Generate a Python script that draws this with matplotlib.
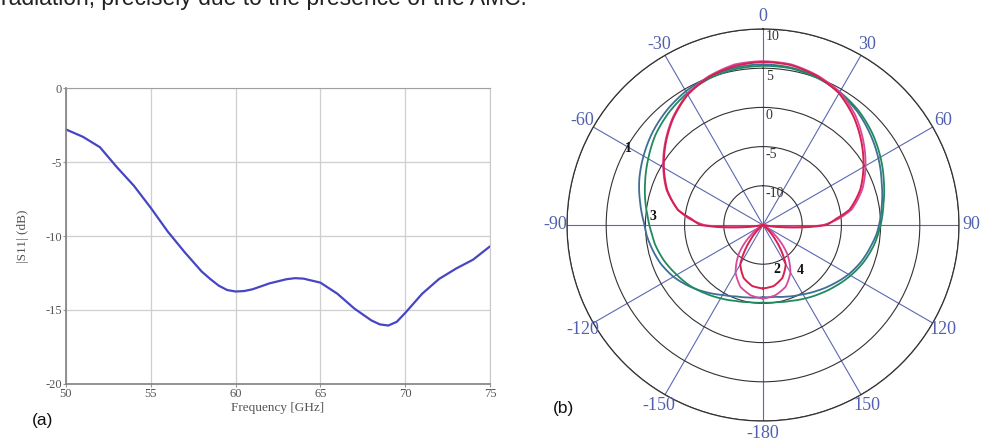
import numpy as np
import matplotlib
matplotlib.use("Agg")
import matplotlib.pyplot as plt
from matplotlib.ticker import FixedLocator
from matplotlib.transforms import offset_copy

plt.rcParams["axes.unicode_minus"] = False

# ---------------- data: (a) |S11| ----------------
freq = [50, 51, 52, 53, 54, 55, 56, 57, 58, 58.5, 59, 59.5, 60, 60.5, 61, 62,
        63, 63.5, 64, 65, 66, 67, 68, 68.5, 69, 69.5, 70, 71, 72, 73, 74, 75]
s11 = [-2.8, -3.3, -4.0, -5.35, -6.6, -8.1, -9.7, -11.1, -12.4, -12.9, -13.35,
       -13.65, -13.75, -13.72, -13.6, -13.2, -12.92, -12.85, -12.88, -13.15,
       -13.9, -14.9, -15.7, -15.97, -16.05, -15.8, -15.2, -13.9, -12.9, -12.2,
       -11.6, -10.7]
x_ticks = [50, 55, 60, 65, 70, 75]
y_ticks = [0, -5, -10, -15, -20]

# ---------------- data: (b) radiation patterns (dB) ----------------
ang_deg = [-180, -170, -160, -150, -140, -130, -120, -110, -100, -95, -90, -85,
           -80, -70, -60, -50, -40, -30, -20, -10, 0, 10, 20, 30, 40, 50, 60,
           70, 80, 85, 90, 95, 100, 110, 120, 130, 140, 150, 160, 170, 180]
pat1 = [-5.8, -5.6, -5.3, -4.7, -3.8, -2.8, -1.8, -1.0, -0.4, -0.1, 0.1, 0.5,
        0.9, 1.8, 2.6, 3.4, 4.1, 4.7, 5.1, 5.4, 5.5, 5.4, 5.1, 4.5, 3.8, 2.9,
        2.0, 1.1, 0.4, 0.1, -0.2, -0.5, -0.9, -1.6, -2.4, -3.3, -4.1, -4.8,
        -5.3, -5.7, -5.8]
pat3 = [-5.1, -5.0, -4.7, -4.2, -3.6, -2.9, -2.3, -1.6, -1.0, -0.8, -0.5, -0.2,
        0.2, 1.0, 1.9, 2.9, 3.7, 4.4, 4.9, 5.2, 5.3, 5.3, 5.0, 4.6, 4.0, 3.2,
        2.3, 1.4, 0.6, 0.3, 0.0, -0.3, -0.6, -1.3, -2.1, -2.9, -3.6, -4.2,
        -4.7, -5.0, -5.1]
pat2 = [-6.9, -7.1, -7.8, -9.2, -12.5, -15, -15, -15, -15, -11.5, -7.0, -5.8,
        -4.0, -2.0, -0.4, 1.2, 2.8, 4.2, 5.1, 5.6, 5.8, 5.7, 5.2, 4.4, 3.0, 1.4,
        -0.2, -1.8, -3.8, -5.6, -6.9, -11.5, -15, -15, -15, -15, -12.5, -9.2,
        -7.8, -7.1, -6.9]
pat4 = [-5.6, -5.9, -6.6, -8.0, -10.2, -13, -15, -15, -15, -12, -7.5, -5.5,
        -4.0, -1.9, -0.3, 1.3, 2.9, 4.3, 5.2, 5.8, 5.9, 5.8, 5.3, 4.6, 3.3, 1.7,
        0.1, -1.5, -3.5, -5.2, -7.3, -12, -15, -15, -15, -13, -10.2, -8.0,
        -6.6, -5.9, -5.6]
theta_labels = [0, 30, 60, 90, 120, 150, -180, -150, -120, -90, -60, -30]
r_ticks = [-10, -5, 0, 5, 10]
curve_names = ["1", "2", "3", "4"]

serif = ["Liberation Serif", "DejaVu Serif"]
sans = ["Liberation Sans", "DejaVu Sans"]

fig = plt.figure(figsize=(9.82, 4.42), dpi=100)
W, H = 982, 442

# caption fragment at the top (cut off by the figure edge)
fig.text(1 / W, 1 - 5 / H, "radiation, precisely due to the presence of the AMC.",
         family=sans, fontsize=16.5, color="#222", va="baseline", ha="left")

# ---------------- (a) ----------------
ax = fig.add_axes([66 / W, 1 - 384 / H, 424 / W, 296 / H])
ax.plot(freq, s11, color="#4646c4", lw=1.6, solid_capstyle="round",
        solid_joinstyle="round")
ax.set_xlim(50, 75)
ax.set_ylim(-20, 0)
ax.set_xticks(x_ticks)
ax.set_yticks(y_ticks)
ax.grid(True, color="#cfcfcf", lw=0.9)
ax.tick_params(length=2, color="#999", labelsize=9, labelcolor="#555", pad=1)
for lab in ax.get_xticklabels() + ax.get_yticklabels():
    lab.set_family(serif)
for s in ["left", "bottom"]:
    ax.spines[s].set_color("#808080")
    ax.spines[s].set_linewidth(1.2)
ax.spines["top"].set_color("#a0a0a0")
ax.spines["right"].set_color("#c8c8c8")
ax.set_xlabel("Frequency [GHz]", family=serif, fontsize=9.5, color="#555", labelpad=1)
ax.set_ylabel("|S11| (dB)", family=serif, fontsize=9.5, color="#555", labelpad=12)
fig.text(32 / W, 1 - 420 / H, "(a)", family=sans, fontsize=12.5, color="#111",
         va="center", ha="left")

# ---------------- (b) ----------------
cx, cy, R = 763, 225, 196
pax = fig.add_axes([(cx - R) / W, 1 - (cy + R) / H, 2 * R / W, 2 * R / H],
                   projection="polar")
pax.set_theta_zero_location("N")
pax.set_theta_direction(-1)
pax.set_rlim(-15, 10)
pax.set_rticks(r_ticks)
pax.set_yticklabels([])
pax.set_xticks(np.deg2rad(np.arange(0, 360, 30)))
pax.set_xticklabels([])
pax.xaxis.set_minor_locator(FixedLocator(np.deg2rad(np.arange(0, 360, 7.5))))
pax.tick_params(axis="x", which="major", length=0)
pax.tick_params(axis="x", which="minor", direction="in", length=5, width=0.8,
                color="#333")
pax.xaxis.grid(True, color="#5c68b0", lw=0.8)
pax.yaxis.grid(True, color="#333333", lw=0.8)
pax.spines["polar"].set_color("#333333")
pax.spines["polar"].set_linewidth(0.9)

th = np.deg2rad(ang_deg)
lines = []
lines += pax.plot(th, pat1, color="#3f6e96", lw=1.3)
lines += pax.plot(th, pat3, color="#1f8a5e", lw=1.3)
lines += pax.plot(th, pat4, color="#d8489c", lw=1.3)
lines += pax.plot(th, pat2, color="#d6204e", lw=1.4)
for ln in lines:
    ln.set_solid_joinstyle("round")
    ln.get_path()._interpolation_steps = 20

for a in theta_labels:
    pax.text(np.deg2rad(a), 11.55, str(a), family=serif, fontsize=13,
             color="#5060ae", ha="center", va="center", clip_on=False)

tr = offset_copy(pax.transData, fig=fig, x=3, y=0, units="dots")
for v in r_ticks:
    pax.text(0, v - 1.0, str(v), family=serif, fontsize=10, color="#333",
             ha="left", va="center", transform=tr)

label_pos = {"1": (-60.3, 4.77), "3": (-85.8, -0.93), "2": (162.7, -8.99),
             "4": (140.6, -7.57)}
for n in curve_names:
    a, r = label_pos[n]
    pax.text(np.deg2rad(a), r, n, family=serif, fontsize=10, fontweight="bold",
             color="#111", ha="center", va="center")

fig.text(553 / W, 1 - 408 / H, "(b)", family=sans, fontsize=12.5, color="#111",
         va="center", ha="left")

fig.savefig("out.png", dpi=100)
